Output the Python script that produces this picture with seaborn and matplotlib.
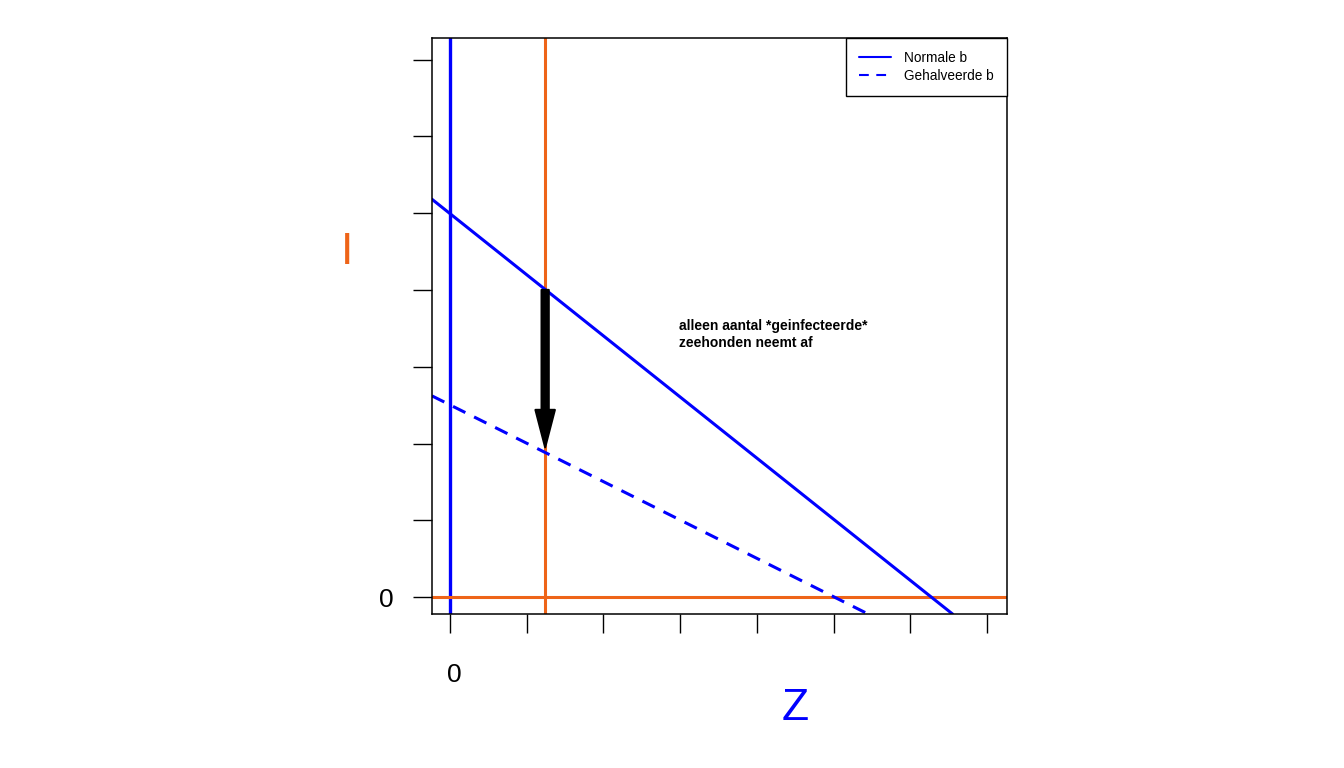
import matplotlib
matplotlib.use("Agg")
import matplotlib.pyplot as plt
import matplotlib.transforms as mtransforms
import seaborn as sns
import pandas as pd

# ---- data ----
z_ticks = [0, 1, 2, 3, 4, 5, 6, 7]
i_ticks = [0, 1, 2, 3, 4, 5, 6, 7]
z_ticklabels = ["0", "", "", "", "", "", "", ""]
i_ticklabels = ["0", "", "", "", "", "", "", ""]

normal_z = [-0.235, 6.55]
normal_i = [5.18, -0.22]
half_z = [-0.235, 5.45]
half_i = [2.62, -0.22]

z_null = 0.0          # vertical blue isocline
i_null_z = 1.24       # vertical orange isocline
i_zero = 0.0          # horizontal orange isocline

arrow_z = 1.24
arrow_from = 4.0
arrow_to = 1.95

labels = ["Normale b", "Gehalveerde b"]
note = "alleen aantal *geinfecteerde*\nzeehonden neemt af"
note_pos = (2.98, 3.62)

BLUE = "#0000FF"
ORANGE = "#EE6418"

sns.set_style("white")
plt.rcParams["font.family"] = ["Liberation Sans", "DejaVu Sans"]
plt.rcParams["text.color"] = "black"
plt.rcParams["xtick.color"] = "black"
plt.rcParams["ytick.color"] = "black"
plt.rcParams["axes.labelcolor"] = "black"

fig = plt.figure(figsize=(13.44, 7.68), dpi=100)
ax = fig.add_axes([432 / 1344, 1 - 614 / 768, (1007 - 432) / 1344, (614 - 38) / 768])

df = pd.DataFrame({
    "Z": normal_z + half_z,
    "I": normal_i + half_i,
    "serie": [labels[0]] * 2 + [labels[1]] * 2,
})
sns.lineplot(data=df, x="Z", y="I", hue="serie", style="serie",
             palette=[BLUE, BLUE], dashes=[(None, None), (4, 3)],
             linewidth=2.2, ax=ax, legend=True)
ax.lines[1].set_dashes([4.5, 3.2])

ax.axvline(z_null, color=BLUE, lw=2.4, zorder=1)
ax.axvline(i_null_z, color=ORANGE, lw=2.2, zorder=1)
ax.axhline(i_zero, color=ORANGE, lw=2.2, zorder=1)

ax.annotate("", xy=(arrow_z, arrow_to), xytext=(arrow_z, arrow_from),
            arrowprops=dict(width=5.2, headwidth=14, headlength=27,
                            facecolor="black", edgecolor="black", lw=1.5,
                            shrink=0, joinstyle="round"),
            zorder=5)

ax.text(note_pos[0], note_pos[1], note, fontsize=10, fontweight="bold",
        color="black", ha="left", va="top", linespacing=1.3)

ax.set_xlim(-0.235, 7.26)
ax.set_ylim(-0.22, 7.28)
ax.set_xticks(z_ticks)
ax.set_xticklabels(z_ticklabels)
ax.set_yticks(i_ticks)
ax.set_yticklabels(i_ticklabels)
ax.tick_params(axis="x", length=13.5, width=1.0, pad=22, labelsize=19, direction="out",
               bottom=True, colors="black")
ax.tick_params(axis="y", length=13.5, width=1.0, pad=14, labelsize=19, direction="out",
               left=True, colors="black")
shift = mtransforms.ScaledTranslation(4 / 100, 0, fig.dpi_scale_trans)
for lab in ax.get_xticklabels():
    lab.set_transform(lab.get_transform() + shift)
for s in ax.spines.values():
    s.set_color("black")
    s.set_linewidth(1.1)

ax.set_xlabel("Z", color=BLUE, fontsize=32, va="center")
ax.xaxis.set_label_coords((795 - 432) / 575, -(709 - 614) / 576)
ax.set_ylabel("I", color=ORANGE, fontsize=32, rotation=0, va="center", ha="center")
ax.yaxis.set_label_coords((347 - 432) / 575, (614 - 252) / 576)

leg = ax.legend(loc="upper right", borderaxespad=0, fancybox=False, framealpha=1,
                edgecolor="black", fontsize=9.8, handlelength=2.3, handletextpad=1.0,
                borderpad=0.95, borderaxespad_=None if False else None,
                labelspacing=0.3, title=None) if False else ax.legend(
                loc="upper right", borderaxespad=0, fancybox=False, framealpha=1,
                edgecolor="black", fontsize=9.8, handlelength=2.3, handletextpad=1.0,
                borderpad=0.95, labelspacing=0.3, title=None)
leg.get_frame().set_linewidth(1.0)
for h in leg.get_lines():
    h.set_linewidth(1.5)
leg.get_lines()[1].set_dashes([4.7, 3.6])
for t in leg.get_texts():
    t.set_color("black")

fig.savefig("out.png", dpi=100)
